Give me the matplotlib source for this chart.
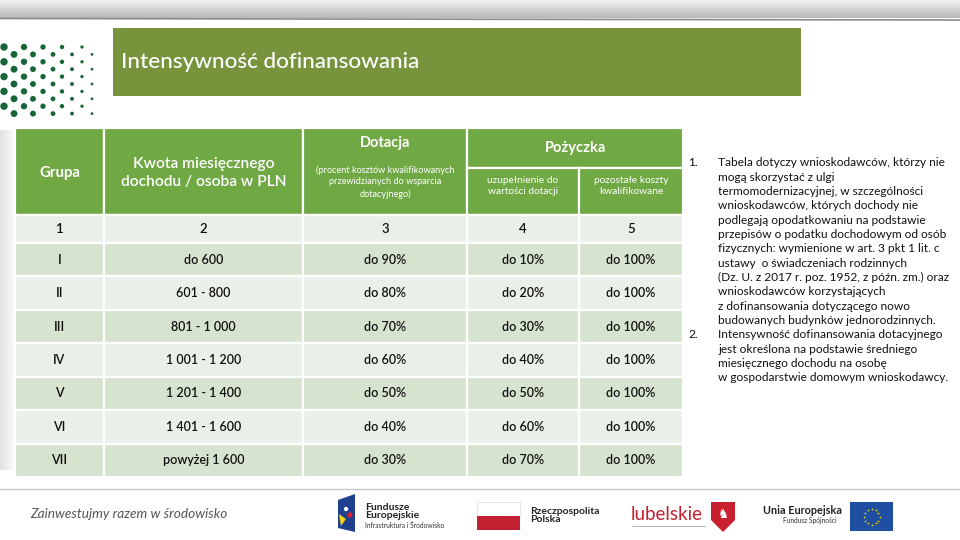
import numpy as np
import matplotlib
matplotlib.use("Agg")
import matplotlib.pyplot as plt
from matplotlib.patches import Rectangle, Polygon, Circle

plt.rcParams['font.family'] = ['Lato', 'DejaVu Sans']

# ---------------- data ----------------
title = "Intensywność dofinansowania"
groups = ['I', 'II', 'III', 'IV', 'V', 'VI', 'VII']
income = ['do 600', '601 - 800', '801 - 1 000', '1 001 - 1 200',
          '1 201 - 1 400', '1 401 - 1 600', 'powyżej 1 600']
grant_pct = [90, 80, 70, 60, 50, 40, 30]
loan_topup_pct = [10, 20, 30, 40, 50, 60, 70]
loan_other_pct = [100, 100, 100, 100, 100, 100, 100]
col_numbers = ['1', '2', '3', '4', '5']
notes = [
    ("1.", ["Tabela dotyczy wnioskodawców, którzy nie",
            "mogą skorzystać z ulgi",
            "termomodernizacyjnej, w szczególności",
            "wnioskodawców, których dochody nie",
            "podlegają opodatkowaniu na podstawie",
            "przepisów o podatku dochodowym od osób",
            "fizycznych: wymienione w art. 3 pkt 1 lit. c",
            "ustawy  o świadczeniach rodzinnych",
            "(Dz. U. z 2017 r. poz. 1952, z późn. zm.) oraz",
            "wnioskodawców korzystających",
            "z dofinansowania dotyczącego nowo",
            "budowanych budynków jednorodzinnych."]),
    ("2.", ["Intensywność dofinansowania dotacyjnego",
            "jest określona na podstawie średniego",
            "miesięcznego dochodu na osobę",
            "w gospodarstwie domowym wnioskodawcy."]),
]

# ---------------- style ----------------
HDR = '#70a844'
TITLE_BG = '#77933c'
ROW_DARK = '#d6e3cf'
ROW_LIGHT = '#eaf0e8'
TXT = '#111111'

fig = plt.figure(figsize=(9.6, 5.4), dpi=100)
ax = fig.add_axes([0, 0, 1, 1])
ax.set_xlim(0, 960)
ax.set_ylim(540, 0)
ax.axis('off')

# top gray gradient strip
grad = np.linspace(0.95, 0.72, 50).reshape(-1, 1)
ax.imshow(np.repeat(grad, 2, axis=1), cmap='gray', vmin=0, vmax=1,
          extent=(0, 960, 18, 0), aspect='auto', zorder=0)
ax.plot([0, 960], [18.5, 20], color='#8a8a8a', lw=1.2, zorder=1)

# faint left band
lg = np.linspace(0.82, 1.0, 40).reshape(1, -1)
ax.imshow(lg, cmap='gray', vmin=0, vmax=1, extent=(0, 18, 470, 130),
          aspect='auto', zorder=0, alpha=0.6)

# dots decoration
dot_x_odd = [4, 24, 43, 62, 82]
dot_x_even = [14, 33, 53, 72, 92]
for r in range(10):
    y = 47 + r * 7.4
    xs = dot_x_odd if r % 2 == 0 else dot_x_even
    for x in xs:
        rad = 3.8 - (x / 92) * 2.4
        ax.add_patch(Circle((x, y), rad, color='#17663a', lw=0, zorder=2))

# title bar
ax.add_patch(Rectangle((113, 28), 688, 68, color=TITLE_BG, lw=0, zorder=1))
ax.text(121, 62, title, color='white', fontsize=16.2, fontweight='medium',
        va='center', ha='left', zorder=3)

# ---------------- table ----------------
col_edges = [15, 104, 303, 467, 579, 683]
hdr_top, hdr_bot = 128, 215
sub_line = 168
num_bot = 243
row_h = (477 - num_bot) / len(groups)
centers = [(col_edges[i] + col_edges[i + 1]) / 2 for i in range(5)]

def cell(x0, y0, x1, y1, fc):
    ax.add_patch(Rectangle((x0, y0), x1 - x0, y1 - y0, facecolor=fc,
                           edgecolor='white', lw=1.6, zorder=2))

# header cells
for i in range(3):
    cell(col_edges[i], hdr_top, col_edges[i + 1], hdr_bot, HDR)
cell(col_edges[3], hdr_top, col_edges[5], sub_line, HDR)
cell(col_edges[3], sub_line, col_edges[4], hdr_bot, HDR)
cell(col_edges[4], sub_line, col_edges[5], hdr_bot, HDR)

ax.text(centers[0], 173, "Grupa", color='white', fontsize=10.8, fontweight='bold',
        ha='center', va='center', zorder=3)
ax.text(centers[1], 173, "Kwota miesięcznego\ndochodu / osoba w PLN", color='white',
        fontsize=11.2, fontweight='semibold', ha='center', va='center',
        linespacing=1.3, zorder=3)
ax.text(centers[2], 143, "Dotacja", color='white', fontsize=10.5, fontweight='bold',
        ha='center', va='center', zorder=3)
ax.text(centers[2], 182, "(procent kosztów kwalifikowanych\nprzewidzianych do wsparcia\ndotacyjnego)",
        color='white', fontsize=6.6, ha='center', va='center', linespacing=1.35, zorder=3)
ax.text((col_edges[3] + col_edges[5]) / 2, 148, "Pożyczka", color='white', fontsize=10.5,
        fontweight='bold', ha='center', va='center', zorder=3)
ax.text(centers[3], 186, "uzupełnienie do\nwartości dotacji", color='white', fontsize=7.3,
        ha='center', va='center', linespacing=1.35, zorder=3)
ax.text(centers[4], 186, "pozostałe koszty\nkwalifikowane", color='white', fontsize=7.3,
        ha='center', va='center', linespacing=1.35, zorder=3)

# number row
for i, lab in enumerate(col_numbers):
    cell(col_edges[i], hdr_bot, col_edges[i + 1], num_bot, ROW_LIGHT)
    ax.text(centers[i], (hdr_bot + num_bot) / 2, lab, color=TXT, fontsize=9.5,
            fontweight='semibold', ha='center', va='center', zorder=3)

# data rows
for r in range(len(groups)):
    y0 = num_bot + r * row_h
    y1 = y0 + row_h
    fc = ROW_DARK if r % 2 == 0 else ROW_LIGHT
    vals = [groups[r], income[r], f"do {grant_pct[r]}%",
            f"do {loan_topup_pct[r]}%", f"do {loan_other_pct[r]}%"]
    for i, v in enumerate(vals):
        cell(col_edges[i], y0, col_edges[i + 1], y1, fc)
        ax.text(centers[i], (y0 + y1) / 2, v, color=TXT, fontsize=9,
                fontweight='semibold', ha='center', va='center', zorder=3)

# ---------------- notes ----------------
line_y = 163
step = 14.33
for num, lines in notes:
    ax.text(688, line_y, num, fontsize=8.6, color=TXT, ha='left', va='center', zorder=3)
    for ln in lines:
        ax.text(718, line_y, ln, fontsize=8.6, color=TXT, ha='left', va='center', zorder=3)
        line_y += step

# ---------------- footer ----------------
ax.plot([0, 960], [489, 489], color='#c8c8c8', lw=1, zorder=1)
ax.text(30, 514, "Zainwestujmy razem w środowisko", fontsize=9.8, fontstyle='italic',
        fontweight='normal', color='#555555', ha='left', va='center')

# Fundusze Europejskie logo
ax.add_patch(Polygon([(338, 500), (355, 494), (355, 532), (338, 528)], closed=True,
                     color='#1f3f8f', lw=0, zorder=2))
ax.add_patch(Circle((346, 509), 2.2, color='white', lw=0, zorder=3))
ax.add_patch(Circle((350, 515), 2.6, color='#d8202f', lw=0, zorder=3))
ax.add_patch(Polygon([(339, 514), (346, 519), (341, 526)], closed=True,
                     color='#f2d013', lw=0, zorder=3))
ax.text(365, 507, "Fundusze", fontsize=7.5, fontweight='bold', color='#222', va='center')
ax.text(365, 516, "Europejskie", fontsize=7.5, fontweight='bold', color='#222', va='center')
ax.text(365, 526, "Infrastruktura i Środowisko", fontsize=4.8, color='#333', va='center')

# Polish flag
ax.add_patch(Rectangle((477, 502), 43, 14, facecolor='white', edgecolor='#dddddd', lw=0.5, zorder=2))
ax.add_patch(Rectangle((477, 516), 43, 14, color='#c0202f', lw=0, zorder=2))
ax.text(530, 511, "Rzeczpospolita", fontsize=7.5, fontweight='bold', color='#222', va='center')
ax.text(530, 520, "Polska", fontsize=7.5, fontweight='bold', color='#222', va='center')

# Lubelskie
ax.text(631, 514, "lubelskie", fontsize=13.5, color='#c0202f', va='center', ha='left')
ax.plot([632, 705], [526, 526], color='#999999', lw=0.5)
ax.add_patch(Polygon([(711, 502), (735, 502), (735, 520), (723, 532), (711, 520)],
                     closed=True, color='#c8202f', lw=0, zorder=2))
ax.text(723, 514, "♞", fontsize=9, color='white', ha='center', va='center', zorder=3)

# EU
ax.text(763, 510, "Unia Europejska", fontsize=7.8, fontweight='bold', color='#222', va='center')
ax.text(783, 521, "Fundusz Spójności", fontsize=4.8, color='#333', va='center')
ax.add_patch(Rectangle((850, 502), 43, 29, color='#1f4fa0', lw=0, zorder=2))
ang = np.linspace(0, 2 * np.pi, 12, endpoint=False)
ax.scatter(871.5 + 8 * np.cos(ang), 516.5 + 8 * np.sin(ang), s=1.5, color='#f5d90a',
           zorder=3, lw=0)

fig.savefig('out.png', dpi=100)
